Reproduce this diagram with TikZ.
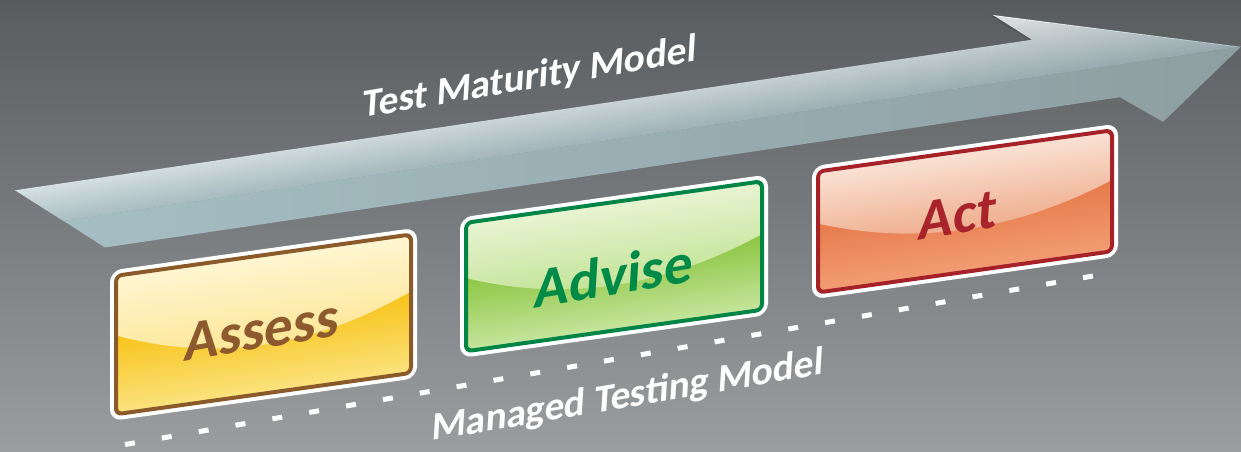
\documentclass[tikz,border=0pt]{standalone}
\usepackage{fontspec}
\setmainfont{Carlito}
\usetikzlibrary{fadings}
\definecolor{bgtop}{RGB}{88,92,95}
\definecolor{bgbot}{RGB}{155,157,159}
\definecolor{arrA}{RGB}{250,251,251}
\definecolor{arrM}{RGB}{230,238,240}
\definecolor{arrB}{RGB}{170,191,196}
\definecolor{arrC}{RGB}{165,190,196}
\definecolor{arrD}{RGB}{142,158,161}
% Assess
\definecolor{asbd}{RGB}{139,90,43}
\definecolor{ashiT}{RGB}{255,247,214}
\definecolor{ashiB}{RGB}{253,229,145}
\definecolor{aslowT}{RGB}{246,188,0}
\definecolor{aslowB}{RGB}{252,229,135}
\definecolor{astx}{RGB}{140,90,45}
% Advise
\definecolor{adbd}{RGB}{0,133,70}
\definecolor{adhiT}{RGB}{234,245,215}
\definecolor{adhiB}{RGB}{192,226,145}
\definecolor{adlowT}{RGB}{128,190,45}
\definecolor{adlowB}{RGB}{202,232,165}
\definecolor{adtx}{RGB}{0,138,72}
% Act
\definecolor{acbd}{RGB}{165,35,40}
\definecolor{achiT}{RGB}{251,230,218}
\definecolor{achiB}{RGB}{238,168,134}
\definecolor{aclowT}{RGB}{228,114,64}
\definecolor{aclowB}{RGB}{243,160,120}
\definecolor{actx}{RGB}{168,35,42}
\tikzfading[name=fadeR, left color=transparent!100, right color=transparent!0]
\newcommand\glossybox[5]{%
  \pgfmathsetmacro\gH{#4-#2}%
  \pgfmathsetmacro\gW{#3-#1}%
  \pgfmathsetmacro\gya{#2+0.42*\gH}%
  \pgfmathsetmacro\gyb{#2+0.40*\gH}%
  \pgfmathsetmacro\gyc{#2+0.71*\gH}%
  \pgfmathsetmacro\gys{#2+0.30*\gH}%
  \pgfmathsetmacro\gxa{#1+\gW/3}%
  \pgfmathsetmacro\gxb{#1+2*\gW/3}%
  \draw[white,line width=12pt,rounded corners=6pt] (#1+6,#2+6) rectangle (#3-6,#4-6);
  \begin{scope}
    \clip[rounded corners=6pt] (#1+6,#2+6) rectangle (#3-6,#4-6);
    \shade[top color=#5lowT,bottom color=#5lowB] (#1,\gys) rectangle (#3,#4);
    \shade[top color=#5hiT,bottom color=#5hiB] (#1,#2) -- (#3,#2) -- (#3,\gyb)
      .. controls (\gxb,\gyc) and (\gxa,\gyc) .. (#1,\gya) -- cycle;
  \end{scope}
  \draw[#5bd,line width=4pt,rounded corners=6pt] (#1+6,#2+6) rectangle (#3-6,#4-6);
}
\tikzset{
  boxtxt/.style={font=\fontsize{58}{60}\selectfont\bfseries, inner sep=0pt,
    cm={0.986,0.165,0.06,0.998,(0,0)}},
  lbl/.style={font=\fontsize{40}{42}\selectfont\bfseries, text=white, inner sep=0pt,
    anchor=base west, cm={0.986,0.168,0.06,0.998,(0,0)}},
  dashline/.style={white, line width=5pt, dash pattern=on 10pt off 27.4pt}
}
\begin{document}
\begin{tikzpicture}[x=1pt,y=-1pt]
\useasboundingbox (0,0) rectangle (1241,452);
\fill[top color=bgtop,bottom color=bgbot] (0,0) rectangle (1241,452);
% arrow
\begin{scope}[transform canvas={yslant=0.148}]
  \shade[top color=arrA, middle color=arrM, bottom color=arrB]
    (15,192.5) -- (1032,192.5) -- (993,162) -- (1241,230.5) -- (63.5,230.5) -- cycle;
  \fill[black, path fading=fadeR, fill opacity=0.12]
    (15,192.5) -- (1032,192.5) -- (993,162) -- (1241,230.5) -- (63.5,230.5) -- cycle;
  \shade[left color=arrC, right color=arrD]
    (63.5,230.3) -- (1241,230.3) -- (1163,294) -- (1120,263) -- (105,263) -- cycle;
\end{scope}
% dashed line
\coordinate (d1) at (125,444.5);
\coordinate (d2) at (1093,276);
\draw[dashline] (d1) -- (d2);
% boxes
\begin{scope}[transform canvas={yslant=0.14}]
  \glossybox{110}{286}{417}{436.5}{as}
  \glossybox{460}{282}{768}{422.5}{ad}
  \glossybox{812}{280}{1118}{413}{ac}
\end{scope}
% texts
\begin{scope}[shift={(262,330)}]
  \node[boxtxt, text=astx] (tAssess) at (0,0) {Assess};
\end{scope}
\begin{scope}[shift={(614,275)}]
  \node[boxtxt, text=adtx] (tAdvise) at (0,0) {Advise};
\end{scope}
\begin{scope}[shift={(958,215)}]
  \node[boxtxt, text=actx] (tAct) at (0,0) {Act};
\end{scope}
\begin{scope}[shift={(362,118)}]
  \node[lbl] (tTMM) at (0,0) {Test Maturity Model};
\end{scope}
\begin{scope}[shift={(431,441)}]
  \node[lbl] (tMTM) at (0,0) {Managed Testing Model};
\end{scope}
\end{tikzpicture}
\end{document}
